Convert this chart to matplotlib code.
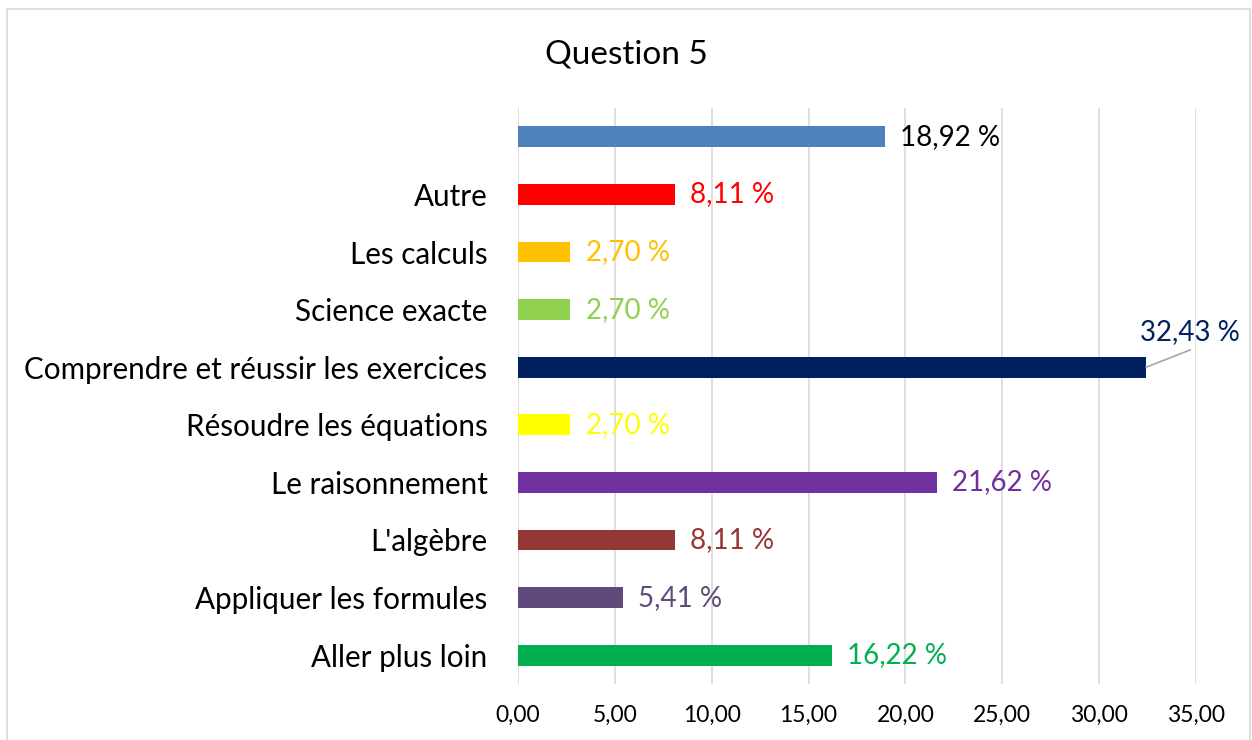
import matplotlib

matplotlib.use("Agg")
import matplotlib.pyplot as plt
from matplotlib.patches import Rectangle

plt.rcParams["font.family"] = ["Lato", "DejaVu Sans"]

# ordre de bas en haut (comme dans Excel)
categories = ["Aller plus loin", "Appliquer les formules", "L'algèbre", "Le raisonnement",
              "Résoudre les équations", "Comprendre et réussir les exercices",
              "Science exacte", "Les calculs", "Autre", ""]
values = [16.22, 5.41, 8.11, 21.62, 2.70, 32.43, 2.70, 2.70, 8.11, 18.92]
bar_colors = ["#00B050", "#604A7B", "#953735", "#7030A0", "#FFFF00", "#002060",
              "#92D050", "#FFC000", "#FF0000", "#4F81BD"]
label_colors = bar_colors[:-1] + ["#000000"]
xticks = [0, 5, 10, 15, 20, 25, 30, 35]

fig = plt.figure(figsize=(12.52, 7.40), dpi=100)
ax = fig.add_axes([518 / 1252, 1 - 684 / 740, (1196 - 518) / 1252, (684 - 108) / 740])

# cadre du graphique
fig.patches.append(Rectangle((7 / 1252, -0.01), 1243 / 1252, 1 - 9 / 740 + 0.01,
                             transform=fig.transFigure, fill=False,
                             edgecolor="#D9D9D9", linewidth=1.2))

y = range(len(categories))
ax.barh(y, values, height=0.36, color=bar_colors, zorder=3)

for i, (v, c) in enumerate(zip(values, label_colors)):
    txt = f"{v:.2f} %".replace(".", ",")
    if v == max(values):
        # étiquette déplacée avec ligne de rappel
        ax.plot([v, 34.7], [i, i + 0.3], color="#A6A6A6", lw=1.2, zorder=4, clip_on=False)
        ax.text(34.7, i + 0.38, txt, color=c, fontsize=20, ha="center", va="bottom")
    else:
        ax.annotate(txt, (v, i), xytext=(11, 0), textcoords="offset points",
                    color=c, fontsize=20, ha="left", va="center")

ax.set_xlim(0, 35)
ax.set_ylim(-0.5, len(categories) - 0.5)
ax.set_yticks(list(y))
ax.set_yticklabels(categories, fontsize=21.3)
ax.set_xticks(xticks)
ax.set_xticklabels([f"{t:.2f}".replace(".", ",") for t in xticks], fontsize=16.5)
ax.tick_params(length=0)
ax.tick_params(axis="y", pad=22)
ax.tick_params(axis="x", pad=15)
ax.grid(axis="x", color="#D9D9D9", linewidth=1.2, zorder=0)
for s in ax.spines.values():
    s.set_visible(False)

fig.text(0.5, 1 - 54 / 740, "Question 5", fontsize=24, ha="center", va="center")

fig.savefig("out.png", dpi=100)
